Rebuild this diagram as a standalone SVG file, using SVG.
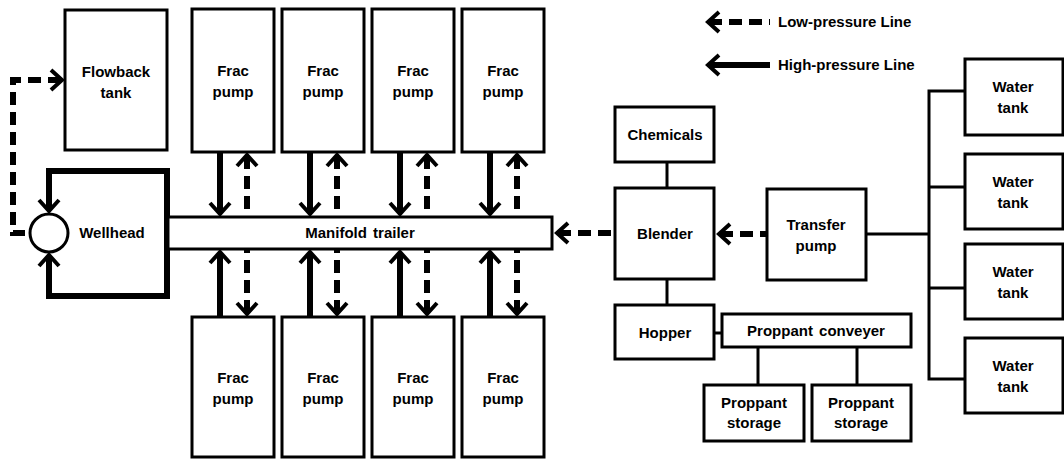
<svg xmlns="http://www.w3.org/2000/svg" width="1064" height="459" viewBox="0 0 1064 459">
  <style>
    .box { fill: #fff; stroke: #000; stroke-width: 3; }
    .ring { fill: #fff; stroke: #000; stroke-width: 3; }
    .lbl { font-family: "Liberation Sans", Arial, sans-serif; font-weight: bold; font-size: 15px; text-anchor: middle; fill: #000; }
    .leg { font-family: "Liberation Sans", Arial, sans-serif; font-weight: bold; font-size: 15px; text-anchor: start; fill: #000; }
    .hp { fill: none; stroke: #000; stroke-width: 6; stroke-linejoin: miter; }
    .lp { fill: none; stroke: #000; stroke-width: 6; stroke-dasharray: 13 7; }
    .link { fill: none; stroke: #000; stroke-width: 3; }
  </style>
  <defs>
    <!-- open chevron head; paths start at the head end -->
    <marker id="head" markerUnits="userSpaceOnUse" viewBox="-14 -12 20 24" markerWidth="20" markerHeight="24" refX="0" refY="0" orient="auto-start-reverse" overflow="visible">
      <path d="M -10,-10 L 1,0 L -10,10" fill="none" stroke="#000" stroke-width="4" stroke-linejoin="miter"/>
    </marker>
  </defs>

  <rect width="1064" height="459" fill="#fff"/>

  <!-- connectors -->
  <g id="connectors">
    <!-- wellhead loop (high pressure) -->
    <path class="hp" d="M 49,210 L 49,171 L 167,171 L 167,296 L 49,296 L 49,256" marker-start="url(#head)" marker-end="url(#head)"/>
    <!-- wellhead to flowback tank (low pressure) -->
    <path class="lp" d="M 61,80 L 13,80 L 13,233 L 30,233" marker-start="url(#head)"/>

    <!-- upper frac pumps -->
    <path class="hp" d="M 220,213 L 220,152" marker-start="url(#head)"/>
    <path class="lp" d="M 247,156 L 247,217" marker-start="url(#head)"/>
    <path class="hp" d="M 310,213 L 310,152" marker-start="url(#head)"/>
    <path class="lp" d="M 337,156 L 337,217" marker-start="url(#head)"/>
    <path class="hp" d="M 400,213 L 400,152" marker-start="url(#head)"/>
    <path class="lp" d="M 427,156 L 427,217" marker-start="url(#head)"/>
    <path class="hp" d="M 490,213 L 490,152" marker-start="url(#head)"/>
    <path class="lp" d="M 517,156 L 517,217" marker-start="url(#head)"/>

    <!-- lower frac pumps -->
    <path class="hp" d="M 220,253 L 220,317" marker-start="url(#head)"/>
    <path class="lp" d="M 247,313 L 247,249" marker-start="url(#head)"/>
    <path class="hp" d="M 310,253 L 310,317" marker-start="url(#head)"/>
    <path class="lp" d="M 337,313 L 337,249" marker-start="url(#head)"/>
    <path class="hp" d="M 400,253 L 400,317" marker-start="url(#head)"/>
    <path class="lp" d="M 427,313 L 427,249" marker-start="url(#head)"/>
    <path class="hp" d="M 490,253 L 490,317" marker-start="url(#head)"/>
    <path class="lp" d="M 517,313 L 517,249" marker-start="url(#head)"/>

    <!-- blender feed -->
    <path class="lp" d="M 558,233 L 615,233" marker-start="url(#head)"/>
    <path class="lp" d="M 720,234 L 767,234" marker-start="url(#head)"/>

    <!-- plain links -->
    <path class="link" d="M 667,162 L 667,188"/>
    <path class="link" d="M 667,279 L 667,305"/>
    <path class="link" d="M 714,333 L 722,333"/>
    <path class="link" d="M 758,347 L 758,385"/>
    <path class="link" d="M 857,347 L 857,385"/>
    <path class="link" d="M 866,234 L 929,234"/>
    <path class="link" d="M 965,91 L 929,91 L 929,379 L 965,379"/>
    <path class="link" d="M 929,187 L 965,187"/>
    <path class="link" d="M 929,288 L 965,288"/>

    <!-- legend -->
    <path class="lp" d="M 709,22 L 770,22" marker-start="url(#head)"/>
    <path class="hp" d="M 709,65 L 770,65" marker-start="url(#head)"/>
  </g>

  <g id="legend">
    <text class="leg" x="778" y="27">Low-pressure Line</text>
    <text class="leg" x="778" y="70">High-pressure Line</text>
  </g>

  <g id="flowback-tank">
    <rect class="box" x="65" y="10" width="102" height="140"/>
    <text class="lbl" x="116" y="77">Flowback</text>
    <text class="lbl" x="116" y="98">tank</text>
  </g>

  <g id="wellhead">
    <circle class="ring" cx="49" cy="233" r="19"/>
    <text class="lbl" x="112" y="238">Wellhead</text>
  </g>

  <g id="manifold-trailer">
    <rect class="box" x="168" y="217" width="384" height="32"/>
    <text class="lbl" x="360" y="238" word-spacing="2">Manifold trailer</text>
  </g>

  <g id="frac-pump-1">
    <rect class="box" x="192" y="9" width="82" height="143"/>
    <text class="lbl" x="233" y="76">Frac</text>
    <text class="lbl" x="233" y="97">pump</text>
  </g>
  <g id="frac-pump-2">
    <rect class="box" x="282" y="9" width="82" height="143"/>
    <text class="lbl" x="323" y="76">Frac</text>
    <text class="lbl" x="323" y="97">pump</text>
  </g>
  <g id="frac-pump-3">
    <rect class="box" x="372" y="9" width="82" height="143"/>
    <text class="lbl" x="413" y="76">Frac</text>
    <text class="lbl" x="413" y="97">pump</text>
  </g>
  <g id="frac-pump-4">
    <rect class="box" x="462" y="9" width="82" height="143"/>
    <text class="lbl" x="503" y="76">Frac</text>
    <text class="lbl" x="503" y="97">pump</text>
  </g>

  <g id="frac-pump-5">
    <rect class="box" x="192" y="317" width="82" height="140"/>
    <text class="lbl" x="233" y="383">Frac</text>
    <text class="lbl" x="233" y="404">pump</text>
  </g>
  <g id="frac-pump-6">
    <rect class="box" x="282" y="317" width="82" height="140"/>
    <text class="lbl" x="323" y="383">Frac</text>
    <text class="lbl" x="323" y="404">pump</text>
  </g>
  <g id="frac-pump-7">
    <rect class="box" x="372" y="317" width="82" height="140"/>
    <text class="lbl" x="413" y="383">Frac</text>
    <text class="lbl" x="413" y="404">pump</text>
  </g>
  <g id="frac-pump-8">
    <rect class="box" x="462" y="317" width="82" height="140"/>
    <text class="lbl" x="503" y="383">Frac</text>
    <text class="lbl" x="503" y="404">pump</text>
  </g>

  <g id="chemicals">
    <rect class="box" x="615" y="107" width="99" height="55"/>
    <text class="lbl" x="665" y="140">Chemicals</text>
  </g>
  <g id="blender">
    <rect class="box" x="615" y="188" width="99" height="91"/>
    <text class="lbl" x="665" y="239">Blender</text>
  </g>
  <g id="hopper">
    <rect class="box" x="615" y="305" width="99" height="54"/>
    <text class="lbl" x="665" y="338">Hopper</text>
  </g>
  <g id="transfer-pump">
    <rect class="box" x="767" y="189" width="99" height="91"/>
    <text class="lbl" x="816" y="230">Transfer</text>
    <text class="lbl" x="816" y="251">pump</text>
  </g>
  <g id="proppant-conveyer">
    <rect class="box" x="722" y="314" width="189" height="33"/>
    <text class="lbl" x="816" y="336" word-spacing="2">Proppant conveyer</text>
  </g>
  <g id="proppant-storage-1">
    <rect class="box" x="704" y="385" width="100" height="56"/>
    <text class="lbl" x="754" y="408">Proppant</text>
    <text class="lbl" x="754" y="428">storage</text>
  </g>
  <g id="proppant-storage-2">
    <rect class="box" x="812" y="385" width="99" height="56"/>
    <text class="lbl" x="861" y="408">Proppant</text>
    <text class="lbl" x="861" y="428">storage</text>
  </g>

  <g id="water-tank-1">
    <rect class="box" x="965" y="59" width="98" height="76"/>
    <text class="lbl" x="1013" y="92">Water</text>
    <text class="lbl" x="1013" y="113">tank</text>
  </g>
  <g id="water-tank-2">
    <rect class="box" x="965" y="154" width="98" height="75"/>
    <text class="lbl" x="1013" y="187">Water</text>
    <text class="lbl" x="1013" y="208">tank</text>
  </g>
  <g id="water-tank-3">
    <rect class="box" x="965" y="244" width="98" height="75"/>
    <text class="lbl" x="1013" y="277">Water</text>
    <text class="lbl" x="1013" y="298">tank</text>
  </g>
  <g id="water-tank-4">
    <rect class="box" x="965" y="338" width="98" height="75"/>
    <text class="lbl" x="1013" y="371">Water</text>
    <text class="lbl" x="1013" y="392">tank</text>
  </g>
</svg>
